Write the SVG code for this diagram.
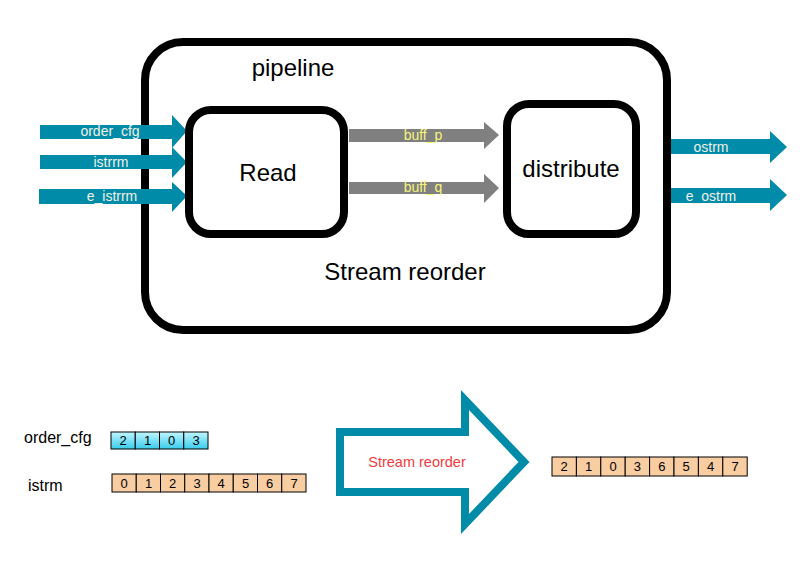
<svg xmlns="http://www.w3.org/2000/svg" width="809" height="562" viewBox="0 0 809 562">
<style>
text{font-family:"Liberation Sans",Arial,sans-serif}
.box{fill:#fff;stroke:#000;stroke-width:8}
.big{font-size:24px;fill:#000;text-anchor:middle}
.tl{fill:#008BA8}
.gl{fill:#808080}
.lab{font-size:14px;fill:#F2F0E4;text-anchor:middle}
.ylab{font-size:14px;fill:#F5F57A;text-anchor:middle}
.cell{stroke:#000;stroke-width:1}
.pc{fill:#F8CDA2}
.d{font-size:13px;fill:#000;text-anchor:middle}
.sl{font-size:16px;fill:#000}
</style>
<defs>
<linearGradient id="cy" x1="0" y1="0" x2="0" y2="1">
<stop offset="0" stop-color="#C2F6FF"/>
<stop offset="1" stop-color="#38CCEC"/>
</linearGradient>
</defs>
<rect width="809" height="562" fill="#fff"/>
<g id="connectors-out">
<polygon class="tl" points="639,139 770,139 770,131 787,147 770,163 770,154 639,154"/>
<text class="lab" x="711" y="152">ostrm</text>
<polygon class="tl" points="639,188 770,188 770,179 787,195 770,211 770,203 639,203"/>
<text class="lab" x="711" y="201">e_ostrm</text>
</g>
<g id="pipeline">
<rect class="box" x="145" y="42" width="522" height="288" rx="38"/>
<text class="big" x="293" y="76">pipeline</text>
<text class="big" x="405" y="280">Stream reorder</text>
</g>
<g id="connectors">
<polygon class="tl" points="40,125 172,125 172,115 187,131 172,148 172,139 40,139"/>
<text class="lab" x="110" y="136">order_cfg</text>
<polygon class="tl" points="40,155 172,155 172,147 187,162 172,178 172,169 40,169"/>
<text class="lab" x="111" y="167">istrrm</text>
<polygon class="tl" points="39,189 172,189 172,182 187,196 172,212 172,204 39,204"/>
<text class="lab" x="112" y="201">e_istrrm</text>
<polygon class="gl" points="349,129 484,129 484,122 499,135 484,149 484,142 349,142"/>
<text class="ylab" x="423" y="140">buff_p</text>
<polygon class="gl" points="349,182 484,182 484,174 499,188 484,203 484,194 349,194"/>
<text class="ylab" x="423" y="192">buff_q</text>
</g>
<g id="read">
<rect class="box" x="189" y="110" width="155" height="124" rx="22"/>
<text class="big" x="268" y="181">Read</text>
</g>
<g id="distribute">
<rect class="box" x="507" y="104" width="129" height="130" rx="22"/>
<text class="big" x="571" y="177">distribute</text>
</g>
<g id="order_cfg">
<text class="sl" x="24" y="443">order_cfg</text>
<g class="cell" fill="url(#cy)">
<rect x="111" y="432" width="24.25" height="17"/>
<rect x="135.25" y="432" width="24.25" height="17"/>
<rect x="159.5" y="432" width="24.25" height="17"/>
<rect x="183.75" y="432" width="24.25" height="17"/>
</g>
<text class="d" x="123" y="445">2</text>
<text class="d" x="147.5" y="445">1</text>
<text class="d" x="171.5" y="445">0</text>
<text class="d" x="196" y="445">3</text>
</g>
<g id="istrm">
<text class="sl" x="28" y="491">istrm</text>
<g class="cell pc">
<rect x="112" y="474" width="24.25" height="18"/>
<rect x="136.25" y="474" width="24.25" height="18"/>
<rect x="160.5" y="474" width="24.25" height="18"/>
<rect x="184.75" y="474" width="24.25" height="18"/>
<rect x="209" y="474" width="24.25" height="18"/>
<rect x="233.25" y="474" width="24.25" height="18"/>
<rect x="257.5" y="474" width="24.25" height="18"/>
<rect x="281.75" y="474" width="24.25" height="18"/>
</g>
<text class="d" x="124" y="488">0</text>
<text class="d" x="148.5" y="488">1</text>
<text class="d" x="172.5" y="488">2</text>
<text class="d" x="197" y="488">3</text>
<text class="d" x="221" y="488">4</text>
<text class="d" x="245.5" y="488">5</text>
<text class="d" x="269.5" y="488">6</text>
<text class="d" x="294" y="488">7</text>
</g>
<g id="stream-reorder">
<path d="M340,432 L465,432 L465,400 L524,462 L465,524 L465,492 L340,492 Z" fill="#fff" stroke="#008BA8" stroke-width="8" stroke-miterlimit="10"/>
<text x="417" y="467" font-size="14.5" fill="#F03C3C" text-anchor="middle">Stream reorder</text>
</g>
<g id="ostrm">
<g class="cell pc">
<rect x="552" y="457" width="24.4" height="19"/>
<rect x="576.4" y="457" width="24.4" height="19"/>
<rect x="600.8" y="457" width="24.4" height="19"/>
<rect x="625.2" y="457" width="24.4" height="19"/>
<rect x="649.6" y="457" width="24.4" height="19"/>
<rect x="674" y="457" width="24.4" height="19"/>
<rect x="698.4" y="457" width="24.4" height="19"/>
<rect x="722.8" y="457" width="24.4" height="19"/>
</g>
<text class="d" x="564.2" y="471">2</text>
<text class="d" x="588.6" y="471">1</text>
<text class="d" x="613" y="471">0</text>
<text class="d" x="637.4" y="471">3</text>
<text class="d" x="661.8" y="471">6</text>
<text class="d" x="686.2" y="471">5</text>
<text class="d" x="710.6" y="471">4</text>
<text class="d" x="735" y="471">7</text>
</g>
</svg>
